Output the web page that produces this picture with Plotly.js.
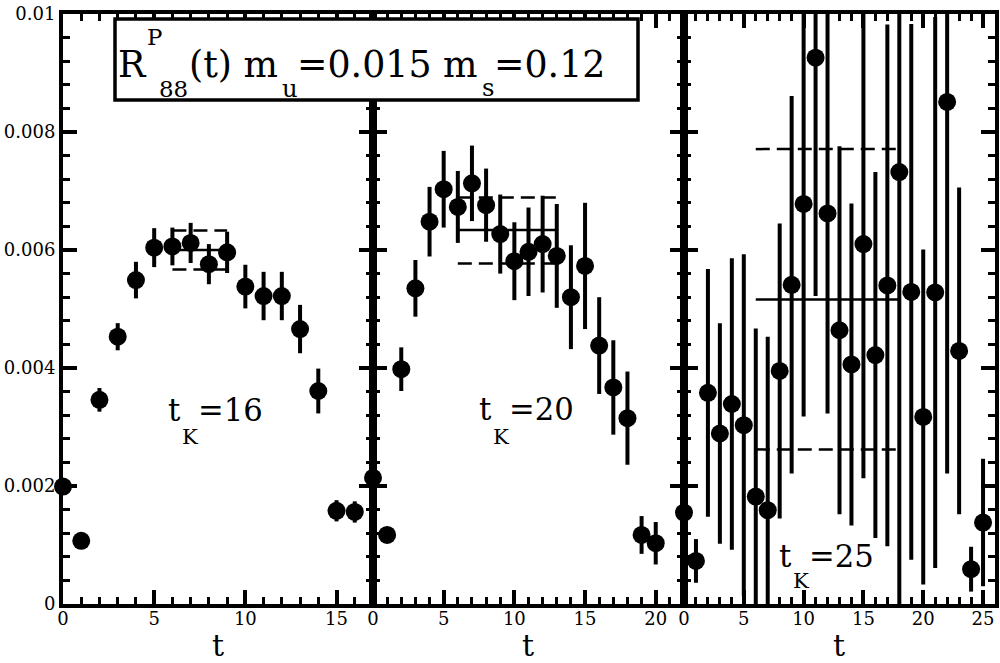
<!DOCTYPE html>
<html><head><meta charset="utf-8">
<script src="https://cdn.plot.ly/plotly-3.0.1.min.js"></script>
<style>html,body{margin:0;padding:0;background:#fff;}</style>
</head><body><div id="chart" style="width:1000px;height:663px;"></div>
<script>
// ---------------- data ----------------
const t16 = [0,1,2,3,4,5,6,7,8,9,10,11,12,13,14,15,16];
const r16 = [0.00199,0.00107,0.00346,0.00453,0.00549,0.00604,0.00606,0.00612,0.00576,0.00596,0.00538,0.00522,0.00522,0.00466,0.00361,0.00158,0.00156];
const e16 = [0.0001,0.0001,0.0002,0.00023,0.00031,0.00033,0.00032,0.00034,0.00034,0.00035,0.00037,0.00041,0.00041,0.00041,0.00038,0.00018,0.00018];
const fitT16 = [6, 9];
const fit16 = [0.00600, 0.00633, 0.00567];   // central, upper, lower

const t20 = [0,1,2,3,4,5,6,7,8,9,10,11,12,13,14,15,16,17,18,19,20];
const r20 = [0.00214,0.00117,0.00398,0.00535,0.00648,0.00703,0.00673,0.00713,0.00676,0.00627,0.00581,0.00597,0.0061,0.0059,0.0052,0.00573,0.00438,0.00367,0.00315,0.00117,0.00103];
const e20 = [0.0001,0.0001,0.00037,0.00048,0.00059,0.00065,0.00061,0.00064,0.00062,0.00067,0.00066,0.00075,0.00082,0.00088,0.00088,0.00107,0.00082,0.0008,0.00079,0.00032,0.00036];
const fitT20 = [6, 13];
const fit20 = [0.00634, 0.00689, 0.00577];

const t25 = [0,1,2,3,4,5,6,7,8,9,10,11,12,13,14,15,16,17,18,19,20,21,22,23,24,25];
const r25 = [0.00155,0.00073,0.00358,0.00289,0.00339,0.00303,0.00182,0.00159,0.00395,0.00541,0.00678,0.00926,0.00662,0.00464,0.00406,0.0061,0.00422,0.0054,0.00732,0.00529,0.00317,0.00528,0.00851,0.00429,0.00059,0.00138];
const e25 = [0.0002,0.00037,0.0021,0.00187,0.00247,0.0029,0.00285,0.00294,0.0025,0.0032,0.0036,0.00404,0.00339,0.00312,0.00273,0.00397,0.0031,0.00442,0.0075,0.00454,0.00284,0.00467,0.0063,0.00277,0.00038,0.00108];
const fitT25 = [6, 18];
const fit25 = [0.00516, 0.00771, 0.00262];

const yTickVals = [0, 0.002, 0.004, 0.006, 0.008, 0.01];
const yTickText = ['0', '0.002', '0.004', '0.006', '0.008', '0.01'];
const xTickVals16 = [0, 5, 10, 15];
const xTickVals20 = [0, 5, 10, 15, 20];
const xTickVals25 = [0, 5, 10, 15, 20, 25];
const xTitle = 't';
const panelLabels = ['16', '20', '25'];
// ---------------------------------------

const FONT = 'DejaVu Serif';
const ctx = document.createElement('canvas').getContext('2d');
function meas(text, size) {
  ctx.font = size + 'px "' + FONT + '"';
  const m = ctx.measureText(text);
  return {w: m.width, asc: m.fontBoundingBoxAscent, desc: m.fontBoundingBoxDescent};
}

const L = 63, R = 995, T = 14, B = 604;
const px = x => (x - L) / (R - L);
const py = y => (B - y) / (B - T);

const panels = [
  {t: t16, r: r16, e: e16, fitT: fitT16, fit: fit16, xa: 'x',  ya: 'y'},
  {t: t20, r: r20, e: e20, fitT: fitT20, fit: fit20, xa: 'x2', ya: 'y2'},
  {t: t25, r: r25, e: e25, fitT: fitT25, fit: fit25, xa: 'x3', ya: 'y3'}
];

const traces = [];
panels.forEach(p => {
  traces.push({
    type: 'scatter', mode: 'markers', x: p.t, y: p.r, xaxis: p.xa, yaxis: p.ya,
    marker: {size: 18, color: 'rgba(0,0,0,0)'},
    error_y: {type: 'data', array: p.e, visible: true, thickness: 4, width: 0, color: 'black'},
    cliponaxis: true, showlegend: false, hoverinfo: 'skip'
  });
  traces.push({
    type: 'scatter', mode: 'markers', x: p.t, y: p.r, xaxis: p.xa, yaxis: p.ya,
    marker: {size: 18, color: 'black', line: {width: 0}},
    cliponaxis: false, showlegend: false
  });
  [0, 1, 2].forEach(k => {
    traces.push({
      type: 'scatter', mode: 'lines', x: p.fitT, y: [p.fit[k], p.fit[k]],
      xaxis: p.xa, yaxis: p.ya,
      line: {color: 'black', width: 2.5, dash: k === 0 ? 'solid' : '14px,7px'},
      showlegend: false, hoverinfo: 'skip'
    });
  });
});

// tick label size so that '0.008' is ~52px wide, as in the reference
const TICK = Math.min(23, Math.round(52 / meas('0.008', 1).w));

function xax(range, domain, anchor, vals) {
  return {
    domain: domain, range: range, anchor: anchor,
    tickmode: 'array', tickvals: vals, ticktext: vals.map(String),
    ticks: 'inside', ticklen: 14, tickwidth: 4, tickcolor: 'black',
    minor: {tickmode: 'linear', tick0: 0, dtick: 1, ticks: 'inside', ticklen: 7, tickwidth: 3, tickcolor: 'black', showgrid: false},
    showline: true, linewidth: 4, linecolor: 'black', mirror: 'allticks',
    showgrid: false, zeroline: false, ticklabelstandoff: -5,
    tickfont: {family: FONT, size: TICK, color: 'black'},
    fixedrange: true
  };
}
function yax(anchor, labels) {
  return {
    domain: [0, 1], range: [0, 0.01], anchor: anchor,
    tickmode: 'array', tickvals: yTickVals, ticktext: yTickText,
    ticks: 'inside', ticklen: 14, tickwidth: 4, tickcolor: 'black',
    minor: {tickmode: 'linear', tick0: 0, dtick: 0.0004, ticks: 'inside', ticklen: 7, tickwidth: 3, tickcolor: 'black', showgrid: false},
    showline: true, linewidth: 4, linecolor: 'black', mirror: 'allticks',
    showgrid: false, zeroline: false, showticklabels: labels,
    tickfont: {family: FONT, size: TICK, color: 'black'},
    fixedrange: true
  };
}

// text piece: left edge + baseline given in picture pixels
function txt(text, xLeft, baseline, size, anchor) {
  const m = meas(text, size);
  const centre = baseline - (m.asc - m.desc) / 2;
  return {
    xref: 'paper', yref: 'paper', x: px(xLeft), y: py(centre),
    xanchor: anchor || 'left', yanchor: 'middle', text: text, showarrow: false,
    borderpad: 0, borderwidth: 0,
    font: {family: FONT, size: size, color: 'black'}
  };
}
// lay out a sequence of pieces so that the whole run is `target` px wide
function run(pieces, x0, target) {
  let w1 = 0, gaps = 0;
  pieces.forEach(p => { if (!p.stay) w1 += meas(p.t, 100).w * p.s / 100; gaps += (p.dx || 0); });
  const S = (target - gaps) / w1;
  const out = [];
  let x = x0;
  pieces.forEach(p => {
    const xx = x + (p.dx || 0);
    out.push(txt(p.t, xx, p.b, S * p.s));
    if (!p.stay) x = xx + meas(p.t, S * p.s).w;
  });
  return {ann: out, S: S};
}

const annotations = [];
const title = run([
  {t: 'R', s: 1, b: 77},
  {t: 'P', s: 0.63, b: 45, dx: 2, stay: true},
  {t: '88', s: 0.63, b: 97, dx: 14},
  {t: '(t) m', s: 1, b: 77},
  {t: 'u', s: 0.67, b: 97, dx: 4},
  {t: '=0.015 m', s: 1, b: 77},
  {t: 's', s: 0.67, b: 96, dx: 4},
  {t: '=0.12', s: 1, b: 77}
], 118, 490);
annotations.push(...title.ann);

const kPos = [[168, 421, 444], [479, 420, 444], [779, 567, 588]];
let SK = 39;
kPos.forEach((k, i) => {
  const r = run([
    {t: 't', s: 1, b: k[1]},
    {t: 'K', s: 0.69, b: k[2], dx: 2},
    {t: '=' + panelLabels[i], s: 1, b: k[1]}
  ], k[0], 95);
  SK = r.S;
  annotations.push(...r.ann);
});

// axis titles "t" under each panel
const tSize = Math.min(36, 38 * SK / 39);
[218, 528, 839].forEach(cx => annotations.push(txt(xTitle, cx, 656, tSize, 'center')));

const layout = {
  width: 1000, height: 663,
  margin: {l: L, r: 1000 - R, t: T, b: 663 - B, pad: 0},
  paper_bgcolor: 'white', plot_bgcolor: 'white',
  showlegend: false,
  font: {family: FONT, color: 'black'},
  xaxis: xax([0, 17], [0, px(373)], 'y', xTickVals16),
  xaxis2: xax([0, 22], [px(373), px(684)], 'y2', xTickVals20),
  xaxis3: xax([0, 26], [px(684), 1], 'y3', xTickVals25),
  yaxis: yax('x', true),
  yaxis2: yax('x2', false),
  yaxis3: yax('x3', false),
  shapes: [{
    type: 'rect', xref: 'paper', yref: 'paper',
    x0: px(115), x1: px(638), y0: py(100), y1: py(19),
    line: {color: 'black', width: 3.5}, fillcolor: 'white', layer: 'above'
  }],
  annotations: annotations
};

Plotly.newPlot('chart', traces, layout, {displayModeBar: false, staticPlot: true});
</script></body></html>
